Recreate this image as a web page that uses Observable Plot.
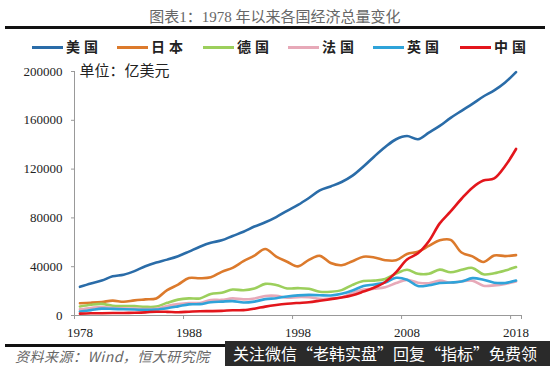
<!DOCTYPE html>
<html><head><meta charset="utf-8">
<script src="https://cdn.jsdelivr.net/npm/d3@7"></script>
<script src="https://cdn.jsdelivr.net/npm/@observablehq/plot@0.6"></script>
<style>
body{margin:0;background:#fff;}
#page{position:relative;width:550px;height:366px;overflow:hidden;background:#fff;}
.abs{position:absolute;}
#title{top:7px;left:0;width:550px;text-align:center;font-family:"Liberation Serif","Noto Sans CJK SC",serif;font-size:15px;color:#666;line-height:20px;}
.rule{left:5px;width:540px;height:3px;background:#111;}
#legend{top:36px;left:0;width:550px;height:20px;font-family:"Noto Sans CJK SC",sans-serif;font-weight:bold;font-size:14px;color:#222;}
.item{position:absolute;top:0;height:20px;line-height:20px;white-space:nowrap;letter-spacing:4px;}
.sw{display:inline-block;width:31px;height:3px;vertical-align:middle;margin-right:3px;margin-top:-2px;}
#chart{top:58px;left:0;}
#source{top:348px;left:15px;font-family:"Noto Sans CJK SC",sans-serif;font-style:italic;font-size:14px;color:#666;letter-spacing:0.5px;line-height:17px;white-space:nowrap;}
#wm{top:341px;left:225px;width:325px;height:25px;background:#2a2a2a;color:#fff;font-family:"Noto Sans CJK SC",sans-serif;font-size:16px;line-height:25px;padding-left:8px;white-space:nowrap;box-sizing:border-box;}
</style></head>
<body><div id="page">
<div id="title" class="abs">图表1：1978 年以来各国经济总量变化</div>
<div class="abs rule" style="top:26px"></div>
<div id="legend" class="abs"></div>
<div id="chart" class="abs"></div>
<div class="abs rule" style="top:344px"></div>
<div id="source" class="abs">资料来源：Wind，恒大研究院</div>
<div id="wm" class="abs">关注微信“老韩实盘”回复“指标”免费领</div>
</div>
<script>
const years = d3.range(1978, 2019);
const countries = ["美国", "日本", "德国", "法国", "英国", "中国"];
const colors = ["#2a6ca8", "#dc7a2c", "#9ccf5c", "#e7a9b8", "#2fa3d9", "#e3161c"];
// 单位：亿美元
const usa = [23500,26300,28600,32100,33400,36400,40400,43400,45800,48600,52400,56400,59600,61600,65200,68600,72900,76400,80700,85800,90600,96300,102500,105800,109400,114600,122100,130400,138100,144500,147100,144500,149900,155400,162000,167800,173500,179500,184500,191000,199500];
const japan = [10100,10500,11100,12200,11300,12400,13200,14000,20800,25300,30700,30500,31300,35800,39100,44500,49100,54500,48300,44100,40300,45600,48900,43000,41200,44500,48200,47600,45300,45200,50400,52300,57000,61600,62000,51600,48500,43900,49200,48700,49500];
const germany = [7400,8800,9500,8000,7800,7700,7100,7300,10400,13000,14000,14000,17700,18700,21300,20700,22100,25900,25000,22200,22400,22000,19500,19500,20800,25100,28200,28600,30000,34300,37500,34200,34200,37600,35400,37500,39000,33800,34700,36900,39700];
const france = [5100,6200,7000,6200,5900,5600,5300,5500,7700,9300,10200,10300,12700,12800,14000,13200,13900,16000,16100,14600,15100,14900,13600,13800,14900,18400,21200,22000,23200,26600,29200,26900,26400,28600,26800,28100,28500,24400,24700,25900,27900];
const uk = [3300,4400,5600,5400,5100,4900,4600,4900,6000,7500,9100,9300,10900,11400,11800,10600,11400,13400,14200,15600,16500,16900,16600,16400,17800,20500,24200,25400,27100,30900,29300,24100,24800,26600,27000,27800,30600,29300,26900,26700,28600];
const china = [1500,1800,1900,2000,2100,2300,2600,3100,3000,2700,3100,3500,3600,3800,4300,4400,5600,7300,8600,9600,10300,10900,12100,13400,14700,16600,19600,22900,27500,35500,45900,51000,60900,75500,85300,95700,104800,110600,112300,122500,136500];
const yTicks = [0, 40000, 80000, 120000, 160000, 200000];
const xLabelYears = [1978, 1988, 1998, 2008, 2018];
const xDomain = [1977.5, 2018.5];

const series = [usa, japan, germany, france, uk, china];
const rows = [];
series.forEach((vals, i) => vals.forEach((v, j) => rows.push({country: countries[i], year: years[j], value: v})));

// legend
const lg = document.getElementById("legend");
const legendX = [32, 117, 203, 288, 373, 460];
countries.forEach((c, i) => {
  const d = document.createElement("div");
  d.className = "item";
  d.style.left = legendX[i] + "px";
  d.innerHTML = `<span class="sw" style="background:${colors[i]}"></span>${c}`;
  lg.appendChild(d);
});

const tickBounds = xLabelYears.map(y => y - 0.5);
const chart = Plot.plot({
  width: 550,
  height: 286,
  marginLeft: 74,
  marginRight: 29,
  marginTop: 13,
  marginBottom: 29,
  style: {fontFamily: "'Liberation Serif', serif", fontSize: "13px", color: "#222", background: "transparent"},
  x: {domain: xDomain},
  y: {domain: [0, 200000]},
  color: {domain: countries, range: colors},
  marks: [
    Plot.ruleX([xDomain[0]], {stroke: "#999", strokeWidth: 1}),
    Plot.ruleY([0], {stroke: "#999", strokeWidth: 1}),
    Plot.axisY({ticks: yTicks, tickSize: 3, tickPadding: 9, tickFormat: d => String(d), label: null, stroke: "#999", fill: "#222"}),
    Plot.axisX({ticks: tickBounds.concat([xDomain[1]]), tickSize: 4, tickFormat: () => "", label: null, stroke: "#999"}),
    Plot.axisX({ticks: xLabelYears, tickSize: 0, tickPadding: 12, tickFormat: d => String(d), label: null, fill: "#222"}),
    Plot.lineY(rows, {x: "year", y: "value", z: "country", stroke: "country", strokeWidth: 2.6, curve: "catmull-rom"}),
    Plot.text(["单位：亿美元"], {frameAnchor: "top-left", dx: 5, dy: -6, fontSize: 15, fontFamily: "'Noto Sans CJK SC', sans-serif", fill: "#222", text: d => d, textAnchor: "start", letterSpacing: "2px"})
  ]
});
document.getElementById("chart").appendChild(chart);
</script>
</body></html>
